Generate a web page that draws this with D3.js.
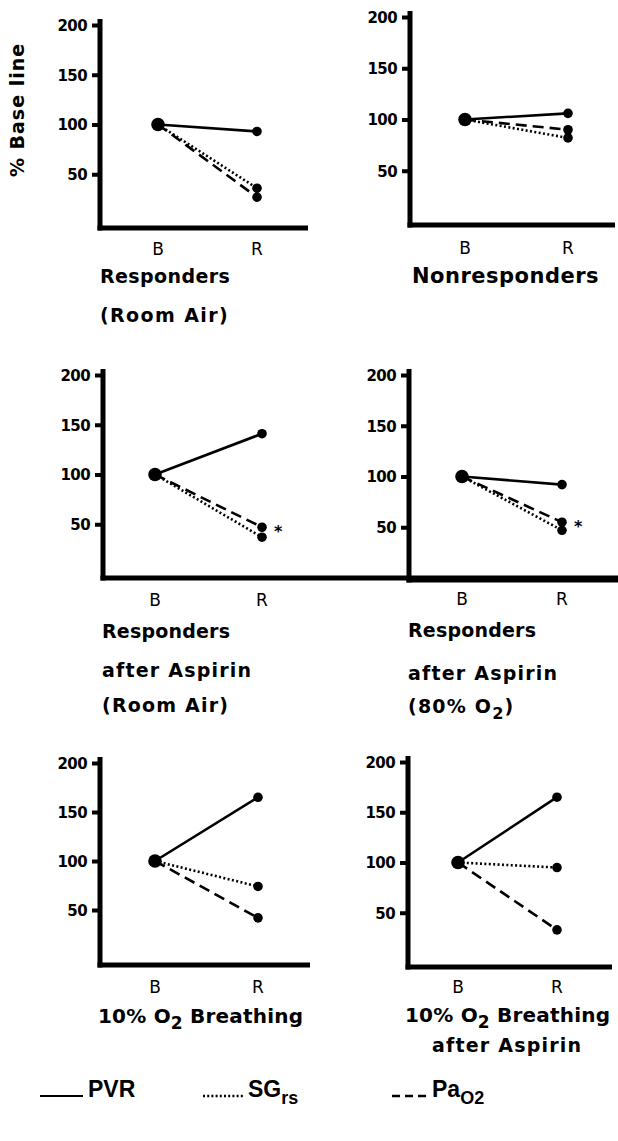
<!DOCTYPE html>
<html>
<head>
<meta charset="utf-8">
<script src="https://cdn.jsdelivr.net/npm/d3@7"></script>
<style>
  html, body { margin: 0; padding: 0; background: #fff; }
  svg { display: block; }
</style>
</head>
<body>
<svg id="chart" width="618" height="1141"></svg>
<script>
// ---------- DATA ----------
const groups = ["B", "R"];
const yTicks = [50, 100, 150, 200];
const seriesNames = ["PVR", "SGrs", "PaO2"];
const pvrValues  = [[100, 93], [100, 106], [100, 141], [100, 92], [100, 165], [100, 165]];
const sgrsValues = [[100, 36], [100, 82],  [100, 37],  [100, 47], [100, 74],  [100, 95]];
const pao2Values = [[100, 27], [100, 90],  [100, 47],  [100, 55], [100, 42],  [100, 33]];
const starred = [false, false, true, true, false, false];
const panelTitles = [
  ["Responders", "(Room Air)"],
  ["Nonresponders"],
  ["Responders", "after Aspirin", "(Room Air)"],
  ["Responders", "after Aspirin", "(80% O{2})"],
  ["10% O{2} Breathing"],
  ["10% O{2} Breathing", "after Aspirin"]
];
const yAxisTitle = "% Base line";

// ---------- LAYOUT ----------
const layout = [
  { ax: 100, y200: 25,  y0: 224, xa: 228, xe: 308, bx: 158, rx: 257, lb: 255,
    tx: 100, tb: [283, 322], ts: [19, 19], tls: [0.4, 1.4] },
  { ax: 410, y200: 17,  y0: 222, xa: 225, xe: 615, bx: 465, rx: 568, lb: 254,
    tx: 412, tb: [283], ts: [21], tls: [0.5] },
  { ax: 103, y200: 375, y0: 574, xa: 578, xe: 618, bx: 155, rx: 262, lb: 606,
    tx: 102, tb: [638, 677, 712], ts: [19, 19, 19], tls: [0.2, 1.2, 1.2] },
  { ax: 409, y200: 375, y0: 578, xa: 580, xe: 618, bx: 462, rx: 562, lb: 605,
    tx: 408, tb: [637, 680, 713], ts: [19, 19, 19], tls: [0.2, 1.2, 1.2] },
  { ax: 100, y200: 763, y0: 959, xa: 965, xe: 310, bx: 155, rx: 258, lb: 993,
    tx: 98, tb: [1023], ts: [20], tls: [0.2] },
  { ax: 408, y200: 762, y0: 963, xa: 967, xe: 612, bx: 458, rx: 557, lb: 993,
    tx: 405, tb: [1022, 1052], ts: [20, 19], tls: [0.2, 1.2], tx2: 432 }
];

const FONT = "'DejaVu Sans', sans-serif";
const LFONT = "'Liberation Sans', Arial, sans-serif";
const styles = {
  PVR:  { dash: null },
  SGrs: { dash: "2,2.4" },
  PaO2: { dash: "11,6" }
};

const svg = d3.select("#chart");

function richText(sel, str, size) {
  // parse "{x}" as subscript
  const parts = str.split(/(\{[^}]*\})/).filter(s => s.length);
  let pending = 0;
  parts.forEach(p => {
    if (p.startsWith("{")) {
      sel.append("tspan").attr("dy", size * 0.3).attr("font-size", size * 0.85).text(p.slice(1, -1));
      pending = -size * 0.3;
    } else {
      const ts = sel.append("tspan").text(p);
      if (pending) { ts.attr("dy", pending); pending = 0; }
    }
  });
}

layout.forEach((L, i) => {
  const g = svg.append("g");
  const y = d3.scaleLinear().domain([0, 200]).range([L.y0, L.y200]);
  const x = d3.scalePoint().domain(groups).range([L.bx, L.rx]);

  // axes lines
  g.append("line").attr("x1", L.ax).attr("x2", L.ax).attr("y1", L.y200 - 6).attr("y2", L.xa + 2.5)
    .attr("stroke", "#000").attr("stroke-width", 5);
  g.append("line").attr("x1", L.ax - 2.5).attr("x2", L.xe).attr("y1", L.xa).attr("y2", L.xa)
    .attr("stroke", "#000").attr("stroke-width", 5);

  // y axis ticks via d3.axisLeft
  const yAxis = d3.axisLeft(y).tickValues(yTicks).tickSize(8).tickPadding(5).tickFormat(d3.format("d"));
  const ya = g.append("g").attr("transform", `translate(${L.ax},0)`).call(yAxis);
  ya.select(".domain").remove();
  ya.selectAll(".tick line").attr("stroke", "#000").attr("stroke-width", 4);
  ya.selectAll(".tick text").attr("font-family", FONT).attr("font-weight", "bold")
    .attr("font-size", 15).attr("letter-spacing", -0.6).attr("fill", "#000").attr("dy", "0.36em");

  // x labels
  g.selectAll(".xl").data(groups).enter().append("text")
    .attr("x", d => x(d)).attr("y", L.lb).attr("text-anchor", "middle")
    .attr("font-family", FONT)
    .attr("font-size", 17).attr("fill", "#000").text(d => d);

  // series
  const data = [
    { name: "PVR", vals: pvrValues[i] },
    { name: "SGrs", vals: sgrsValues[i] },
    { name: "PaO2", vals: pao2Values[i] }
  ];
  const line = d3.line().x((d, j) => x(groups[j])).y(d => y(d));
  data.forEach(s => {
    g.append("path").datum(s.vals).attr("d", line)
      .attr("fill", "none").attr("stroke", "#000").attr("stroke-width", 2.6)
      .attr("stroke-dasharray", styles[s.name].dash);
  });
  data.forEach(s => {
    g.append("circle").attr("cx", x("R")).attr("cy", y(s.vals[1])).attr("r", 4.8).attr("fill", "#000");
  });
  g.append("circle").attr("cx", x("B")).attr("cy", y(100)).attr("r", 6.8).attr("fill", "#000");

  if (starred[i]) {
    g.append("text").attr("x", x("R") + 12).attr("y", y(pao2Values[i][1]) + 10)
      .attr("font-family", FONT).attr("font-weight", "bold").attr("font-size", 16)
      .attr("fill", "#000").text("*");
  }

  // titles
  panelTitles[i].forEach((t, k) => {
    const size = L.ts[k];
    const tx = (k === 1 && L.tx2) ? L.tx2 : L.tx;
    const te = g.append("text").attr("x", tx).attr("y", L.tb[k])
      .attr("font-family", FONT).attr("font-weight", "bold").attr("font-size", size)
      .attr("letter-spacing", L.tls[k]).attr("fill", "#000");
    richText(te, t, size);
  });
});

// y axis title
svg.append("text").attr("transform", "translate(24,110) rotate(-90)")
  .attr("text-anchor", "middle").attr("font-family", FONT).attr("font-weight", "bold")
  .attr("font-size", 19).attr("letter-spacing", 1).attr("fill", "#000").text(yAxisTitle);

// legend
const legendItems = [
  { name: "PVR",  x1: 40,  x2: 83,  tx: 88,  label: "PVR", sub: "" },
  { name: "SGrs", x1: 203, x2: 245, tx: 248, label: "SG", sub: "rs" },
  { name: "PaO2", x1: 392, x2: 428, tx: 432, label: "Pa", sub: "O2" }
];
const lg = svg.append("g");
legendItems.forEach(it => {
  lg.append("line").attr("x1", it.x1).attr("x2", it.x2).attr("y1", 1096).attr("y2", 1096)
    .attr("stroke", "#000").attr("stroke-width", it.name === "PVR" ? 1.8 : 2.4)
    .attr("stroke-dasharray", it.name === "SGrs" ? "2,2.2" : (it.name === "PaO2" ? "8,5" : null));
  const t = lg.append("text").attr("x", it.tx).attr("y", 1097)
    .attr("font-family", LFONT).attr("font-weight", "bold").attr("font-size", 23).attr("fill", "#000");
  t.append("tspan").text(it.label);
  if (it.sub) t.append("tspan").attr("dy", 7).attr("font-size", 18).text(it.sub);
});
</script>
</body>
</html>
